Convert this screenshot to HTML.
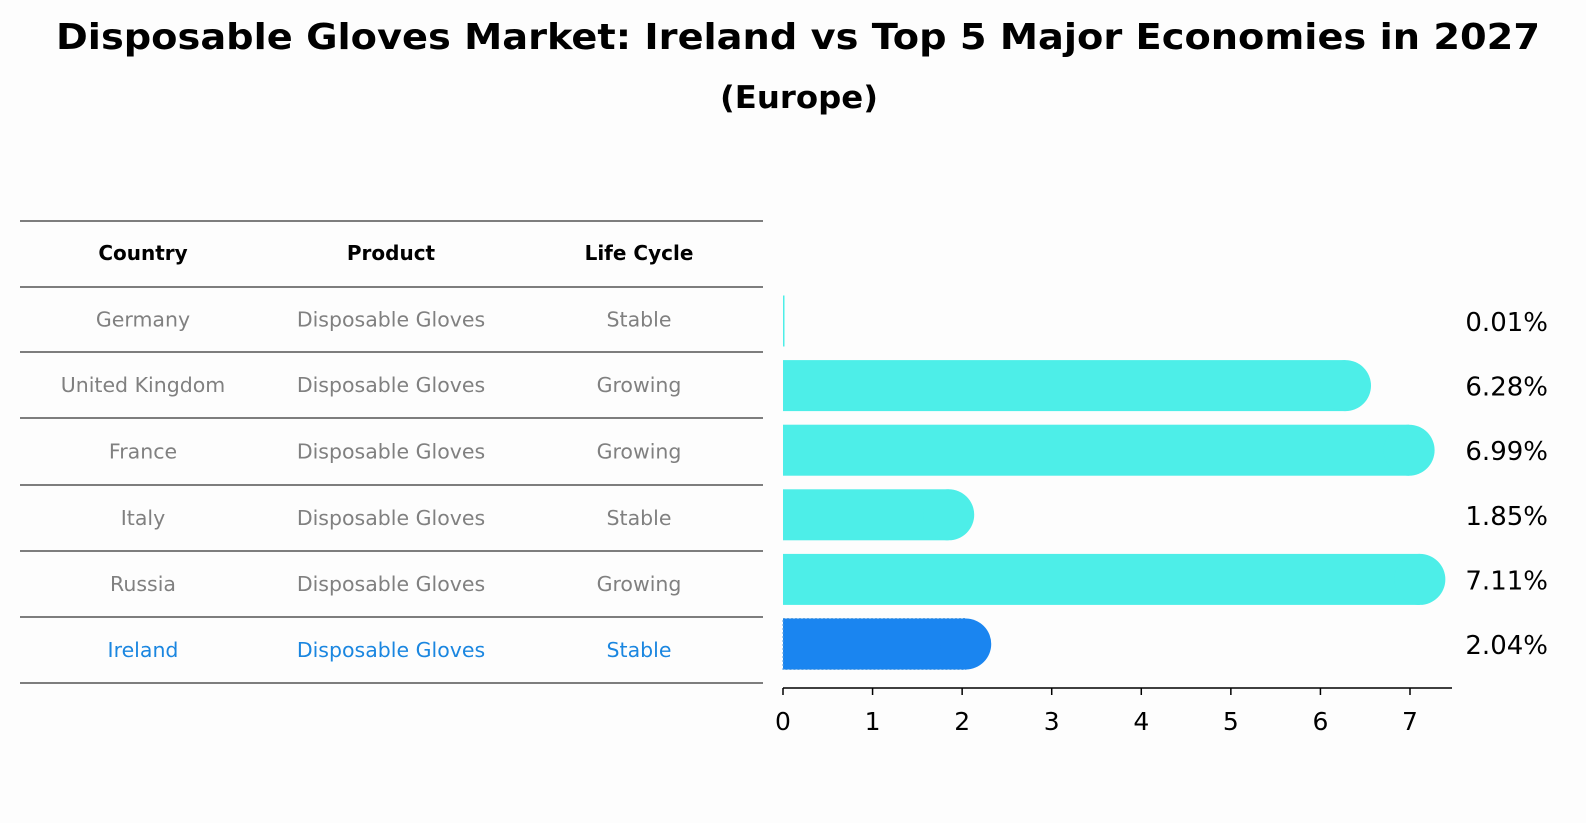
<!DOCTYPE html>
<html><head><meta charset="utf-8"><style>
html,body{margin:0;padding:0;overflow:hidden;background:#fdfdfd;font-family:"Liberation Sans","DejaVu Sans",sans-serif;}
svg{display:block;}
svg text{font-family:"DejaVu Sans","Liberation Sans",sans-serif;}
</style></head><body>
<svg width="1586" height="823" xmlns="http://www.w3.org/2000/svg">
<rect width="1586" height="823" fill="#fdfdfd"/>
<text x="798" y="49" text-anchor="middle" font-size="36" font-weight="bold" textLength="1484" lengthAdjust="spacingAndGlyphs">Disposable Gloves Market: Ireland vs Top 5 Major Economies in 2027</text>
<text x="799" y="108" text-anchor="middle" font-size="31" font-weight="bold" textLength="158" lengthAdjust="spacingAndGlyphs">(Europe)</text>
<g id="table"></g>
<g id="bars"></g>
</svg>
<script>
const countries=["Germany","United Kingdom","France","Italy","Russia","Ireland"];
const products=["Disposable Gloves","Disposable Gloves","Disposable Gloves","Disposable Gloves","Disposable Gloves","Disposable Gloves"];
const lifeCycles=["Stable","Growing","Growing","Stable","Growing","Stable"];
const values=[0.01,6.28,6.99,1.85,7.11,2.04];
const valueLabels=["0.01%","6.28%","6.99%","1.85%","7.11%","2.04%"];
const ticks=[0,1,2,3,4,5,6,7];
const NS="http://www.w3.org/2000/svg";
function mk(t,a,p){const e=document.createElementNS(NS,t);for(const k in a)e.setAttribute(k,a[k]);p.appendChild(e);return e;}
const tbl=document.getElementById('table');
const lineYs=[221,287,352,418,485,551,617,683];
lineYs.forEach(y=>{const l=mk('line',{x1:20,x2:763,y1:y,y2:y,stroke:'#000','stroke-width':1},tbl);

});
const colX=[143,391,639];
["Country","Product","Life Cycle"].forEach((h,i)=>{const t=mk('text',{x:colX[i],y:260,'text-anchor':'middle','font-size':20,'font-weight':'bold'},tbl);t.textContent=h;

});
countries.forEach((c,r)=>{const y=(lineYs[r+1]+lineYs[r+2])/2+7;const col=r===5?'#1a86e0':'#808080';
[c,products[r],lifeCycles[r]].forEach((v,i)=>{const t=mk('text',{x:colX[i],y:y,'text-anchor':'middle','font-size':20.5,fill:col},tbl);t.textContent=v;

});});
const g=document.getElementById('bars');
const x0=783,pxPer=(1410-783)/7;
const X=v=>x0+v*pxPer;
const rowY=i=>321+i*64.6;
const bh=51;
values.forEach((v,i)=>{const cy=rowY(i);const col=i===5?'#1a85f0':'#4deee8';
const r=mk('rect',{x:x0,y:cy-bh/2,width:Math.max(X(v)-x0,1.5),height:bh,fill:col},g);


if(i===5){r.setAttribute('stroke','#5aa0e0');r.setAttribute('stroke-dasharray','2,2');r.setAttribute('stroke-width','1');}
if(v>0.1){const c=mk('circle',{cx:X(v),cy:cy,r:bh/2,fill:col},g);

}
const t=mk('text',{x:1548,y:cy+10,'text-anchor':'end','font-size':26},g);t.textContent=valueLabels[i];

});
const ax=mk('line',{x1:x0,x2:1452,y1:688,y2:688,stroke:'#000','stroke-width':1.5},g);


ticks.forEach(t=>{const l=mk('line',{x1:X(t),x2:X(t),y1:688,y2:695,stroke:'#000','stroke-width':1.5},g);


const tx=mk('text',{x:X(t),y:730,'text-anchor':'middle','font-size':25},g);tx.textContent=t;

});
</script>
</body></html>
